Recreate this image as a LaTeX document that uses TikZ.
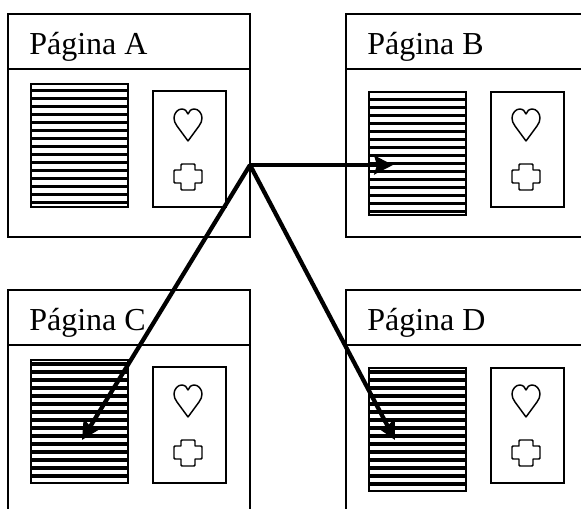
\documentclass[tikz,border=0pt]{standalone}
\usepackage{fontspec}
\setmainfont{Liberation Serif}
\usetikzlibrary{arrows.meta}
\tikzset{
  pagina/.style={draw, line width=1.3pt, anchor=north west, inner sep=0pt, outer sep=0pt, minimum width=181.5pt, minimum height=167.25pt},
  titulo/.style={anchor=base west, inner sep=0pt, font=\fontsize{24}{28}\selectfont},
  lista/.style={draw, line width=1.5pt, anchor=north west, inner sep=0pt, outer sep=0pt, minimum width=72.75pt, minimum height=92pt},
  lateral/.style={draw, line width=1.3pt, anchor=north west, inner sep=0pt, outer sep=0pt, minimum width=54.75pt, minimum height=#1},
  listra/.style={line width=2.5pt},
  icone/.style={line width=1.1pt, line join=round},
  seta/.style={line width=3.2pt, ->, >={Stealth[length=14pt,width=14pt,inset=2pt]}}
}
\begin{document}
\begin{tikzpicture}[x=0.75pt, y=-0.75pt]
  \clip (0,0) rectangle (581,508);

  \foreach \n/\x/\y/\ly/\lf/\sy/\sh in {A/8/14/70/6.7/77/87pt, B/346/14/78/7.3/78/86.25pt, C/8/290/70/4/77/87pt, D/346/290/78/4/78/86.25pt} {
    \begin{scope}[shift={(\x,\y)}]
      \node[pagina] (pag\n) at (0,0) {};
      \draw[line width=1.3pt] (pag\n.west |- 0,55) -- (pag\n.east |- 0,55);
      \node[titulo] (tit\n) at (21,40) {Página \n};

      \node[lista] (lista\n) at (23,\ly) {};
      \foreach \k in {0,...,14} \draw[listra] (23,{\ly+\lf+\k*8}) -- (120,{\ly+\lf+\k*8});

      \node[lateral=\sh] (lado\n) at (145,\sy) {};
      \begin{scope}[shift={(180,111)}]
        \draw[icone] (0,16) -- (-11,1) .. controls (-13,-2) and (-14,-4) .. (-14,-7) .. controls (-14,-12) and (-10,-16) .. (-6.5,-16) .. controls (-3,-16) and (-1,-14) .. (0,-11) .. controls (1,-14) and (3,-16) .. (6.5,-16) .. controls (10,-16) and (14,-12) .. (14,-7) .. controls (14,-4) and (13,-2) .. (11,1) -- cycle;
      \end{scope}
      \begin{scope}[shift={(180,163)}]
        \draw[icone] (-7,-12) -- (-6,-13) -- (6,-13) -- (7,-12) -- (7,-7) -- (13,-7) -- (14,-6) -- (14,5) -- (13,6) -- (7,6) -- (7,12) -- (6,13) -- (-6,13) -- (-7,12) -- (-7,6) -- (-13,6) -- (-14,5) -- (-14,-6) -- (-13,-7) -- (-7,-7) -- cycle;
      \end{scope}
    \end{scope}
  }

  \coordinate (origem) at (250,165);
  \coordinate (alvoB) at (393,165);
  \coordinate (alvoC) at (82,440);
  \coordinate (alvoD) at (395,440);

  \draw[seta] (origem) -- (alvoB);
  \draw[seta] (origem) -- (alvoC);
  \draw[seta] (origem) -- (alvoD);
\end{tikzpicture}
\end{document}
